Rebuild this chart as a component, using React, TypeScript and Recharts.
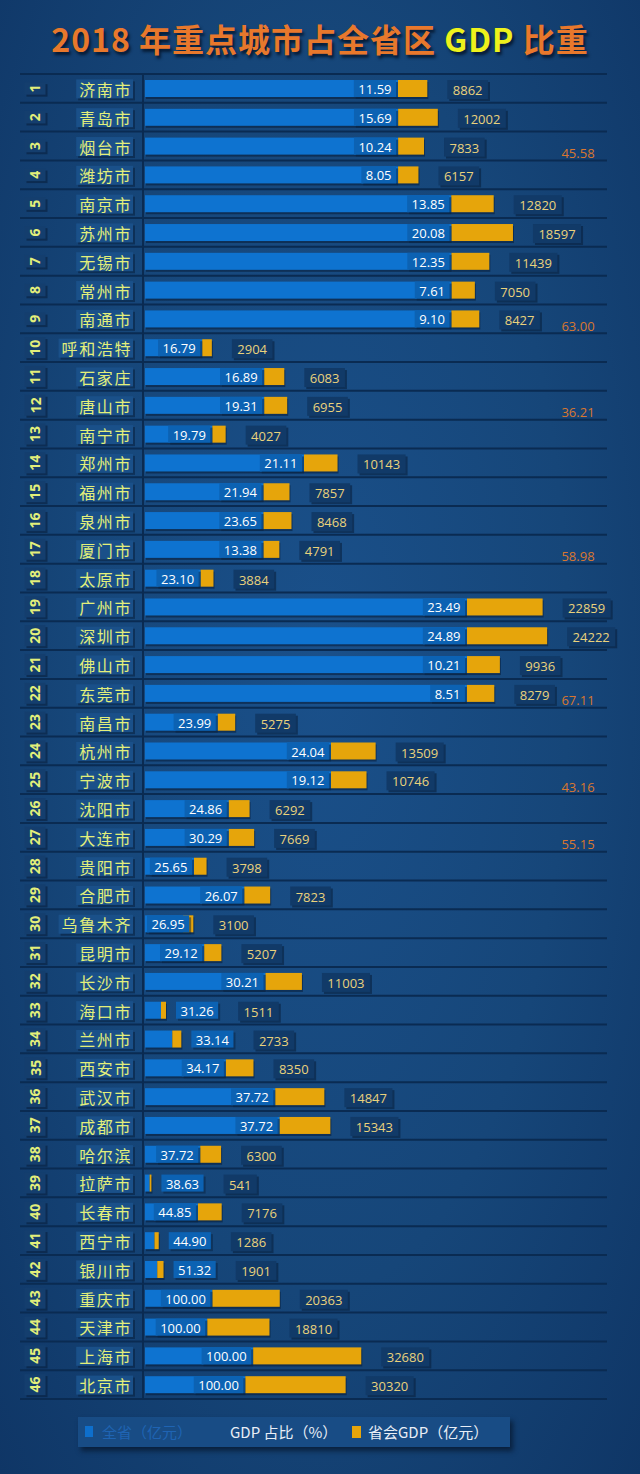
import React from 'react';
import { BarChart, Bar, XAxis, YAxis, LabelList } from 'recharts';

const categories = [
  '济南市', '青岛市', '烟台市', '潍坊市', '南京市', '苏州市', '无锡市', '常州市', '南通市', '呼和浩特',
  '石家庄', '唐山市', '南宁市', '郑州市', '福州市', '泉州市', '厦门市', '太原市', '广州市', '深圳市',
  '佛山市', '东莞市', '南昌市', '杭州市', '宁波市', '沈阳市', '大连市', '贵阳市', '合肥市', '乌鲁木齐',
  '昆明市', '长沙市', '海口市', '兰州市', '西安市', '武汉市', '成都市', '哈尔滨', '拉萨市', '长春市',
  '西宁市', '银川市', '重庆市', '天津市', '上海市', '北京市',
];

const pctValues = [
  11.59, 15.69, 10.24, 8.05, 13.85, 20.08, 12.35, 7.61, 9.1, 16.79,
  16.89, 19.31, 19.79, 21.11, 21.94, 23.65, 13.38, 23.1, 23.49, 24.89,
  10.21, 8.51, 23.99, 24.04, 19.12, 24.86, 30.29, 25.65, 26.07, 26.95,
  29.12, 30.21, 31.26, 33.14, 34.17, 37.72, 37.72, 37.72, 38.63, 44.85,
  44.9, 51.32, 100, 100, 100, 100,
];

const cityGdp = [
  8862, 12002, 7833, 6157, 12820, 18597, 11439, 7050, 8427, 2904,
  6083, 6955, 4027, 10143, 7857, 8468, 4791, 3884, 22859, 24222,
  9936, 8279, 5275, 13509, 10746, 6292, 7669, 3798, 7823, 3100,
  5207, 11003, 1511, 2733, 8350, 14847, 15343, 6300, 541, 7176,
  1286, 1901, 20363, 18810, 32680, 30320,
];

const provinceGdp = [
  76463, 76495, 76494, 76484, 92563, 92614, 92623, 92641, 92604, 17296,
  36016, 36018, 20349, 48048, 35811, 35805, 35807, 16814, 97314, 97316,
  97316, 97286, 21988, 56194, 56203, 25310, 25318, 14807, 30008, 11503,
  17881, 36422, 4834, 8247, 24437, 39361, 40676, 16700, 1400, 16000,
  2864, 3704, 20363, 18810, 32680, 30320,
];

const groupSumRows = ['烟台市', '南通市', '唐山市', '厦门市', '东莞市', '宁波市', '大连市'];
const groupSumValues = ['45.58', '63.00', '36.21', '58.98', '67.11', '43.16', '55.15'];

const legendItems = ['全省（亿元）', 'GDP 占比（%）', '省会GDP（亿元）'];

const data = categories.map((name, i) => ({
  name,
  province: provinceGdp[i],
  city: cityGdp[i],
  pct: pctValues[i],
}));

const W = 640;
const H = 1474;
const TOP = 74;
const BOTTOM = 1399;
const ROW_H = (BOTTOM - TOP) / categories.length;

const BLUE = '#0e73d0';
const ORANGE = '#e6a50b';
const BG_LINE = '#0a2b52';
const NAME_COLOR = '#e3ef7a';
const NUM_FONT = '"Open Sans", "Liberation Sans", sans-serif';
const CJK_FONT = '"Noto Sans CJK SC", "Noto Sans", sans-serif';

function numWidth(s: string, fs: number) {
  let w = 0;
  for (const c of s) w += c === '.' ? fs * 0.27 : fs * 0.57;
  return w;
}

function getVB(props: any) {
  const vb = props.viewBox || {};
  return {
    x: Number(props.x ?? vb.x),
    y: Number(props.y ?? vb.y),
    width: Number(props.width ?? vb.width),
    height: Number(props.height ?? vb.height),
  };
}

// pct label box, given blue bar geometry
function pctBox(idx: number, x: number, width: number) {
  const d = data[idx];
  const txt = d.pct.toFixed(2);
  const tw = numWidth(txt, 13);
  const bw = tw + 9;
  let left: number;
  let outside = false;
  if (width >= 32) {
    left = Math.max(x + width - 2 - bw, x + 2);
  } else {
    const ratio = width / d.province;
    const orangeEnd = x + width + d.city * ratio;
    left = orangeEnd + 10;
    outside = true;
  }
  return { txt, left, bw, outside };
}

function PctLabel(props: any) {
  const { x, y, width, height } = getVB(props);
  const idx = categories.indexOf(props.value);
  if (idx < 0 || !isFinite(x)) return null;
  const { txt, left, bw } = pctBox(idx, x, width);
  const cy = y + height / 2;
  const bh = 17;
  return (
    <g>
      <rect x={left + 2} y={cy - bh / 2 + 2} width={bw} height={bh} fill="#082140" opacity={0.5} />
      <rect x={left} y={cy - bh / 2} width={bw} height={bh} fill="#0c62b3" />
      <text x={left + bw / 2} y={cy + 0.5} textAnchor="middle" dominantBaseline="central" fill="#ffffff" fontSize={13} fontFamily={NUM_FONT}>
        {txt}
      </text>
    </g>
  );
}

function ValueLabel(props: any) {
  const { x, y, width, height } = getVB(props);
  const idx = categories.indexOf(props.value);
  if (idx < 0 || !isFinite(x)) return null;
  const d = data[idx];
  const ratio = d.city > 0 ? width / d.city : 0;
  const blueW = d.province * ratio;
  const blueX = x - blueW;
  const pb = pctBox(idx, blueX, blueW);
  let start = x + width;
  if (pb.outside) start = Math.max(start, pb.left + pb.bw);
  const left = start + 20;
  const txt = String(d.city);
  const bw = numWidth(txt, 13) + 11;
  const bh = 19;
  const cy = y + height / 2 + 1;
  return (
    <g>
      <rect x={left + 2} y={cy - bh / 2 + 2} width={bw} height={bh} fill="#071d38" opacity={0.55} />
      <rect x={left} y={cy - bh / 2} width={bw} height={bh} fill="#113a68" />
      <text x={left + bw / 2} y={cy + 0.5} textAnchor="middle" dominantBaseline="central" fill="#ead27c" fontSize={13} fontFamily={NUM_FONT}>
        {txt}
      </text>
    </g>
  );
}

function ShadowBar(props: any) {
  const { x, y, width, height, fill } = props;
  if (!isFinite(x) || !isFinite(width) || width <= 0) return null;
  return (
    <g>
      <rect x={x + 1} y={y + 2} width={width} height={height} fill="#071c36" opacity={0.55} />
      <rect x={x} y={y} width={width} height={height} fill={fill} />
    </g>
  );
}

function RowTick(props: any) {
  const { y, payload } = props;
  const name = payload?.value as string;
  const idx = categories.indexOf(name);
  const num = String(idx + 1);
  const cy = Number(y);
  const nameFs = 16;
  const ls = 1.6;
  const nameW = name.length * (nameFs + ls);
  const nameRight = 133;
  const numBoxH = num.length * 8.5 + 4;
  const numBoxW = 21;
  const gi = groupSumRows.indexOf(name);
  return (
    <g>
      <line x1={20} x2={607} y1={cy - ROW_H / 2} y2={cy - ROW_H / 2} stroke={BG_LINE} strokeWidth={2} />
      {idx === categories.length - 1 && (
        <line x1={20} x2={607} y1={cy + ROW_H / 2} y2={cy + ROW_H / 2} stroke={BG_LINE} strokeWidth={2} />
      )}
      {idx === 0 && <line x1={143} x2={143} y1={TOP} y2={BOTTOM} stroke={BG_LINE} strokeWidth={2} />}
      {/* index box */}
      <rect x={35 - numBoxW / 2 + 2} y={cy - numBoxH / 2 + 2} width={numBoxW} height={numBoxH} fill="#081f3d" opacity={0.6} />
      <rect x={35 - numBoxW / 2} y={cy - numBoxH / 2} width={numBoxW} height={numBoxH} fill="#143e6e" />
      <text
        x={35}
        y={cy}
        transform={`rotate(-90, 35, ${cy})`}
        textAnchor="middle"
        dominantBaseline="central"
        fill={NAME_COLOR}
        fontSize={14}
        fontWeight="bold"
        fontFamily={NUM_FONT}
      >
        {num}
      </text>
      {/* name box */}
      <rect x={nameRight - nameW - 4 + 2} y={cy - 9 + 2} width={nameW + 4} height={19} fill="#081f3d" opacity={0.55} />
      <rect x={nameRight - nameW - 4} y={cy - 9} width={nameW + 4} height={19} fill="#1a5089" />
      <text
        x={nameRight - 1}
        y={cy + 0.5}
        textAnchor="end"
        dominantBaseline="central"
        fill={NAME_COLOR}
        fontSize={nameFs}
        letterSpacing={ls}
        fontFamily={CJK_FONT}
      >
        {name}
      </text>
      {gi >= 0 && (
        <text x={578} y={cy + 7} textAnchor="middle" dominantBaseline="central" fill="#d9772f" fontSize={13} fontFamily={NUM_FONT}>
          {groupSumValues[gi]}
        </text>
      )}
    </g>
  );
}

export default function App() {
  return (
    <div
      style={{
        width: W,
        height: H,
        position: 'relative',
        overflow: 'hidden',
        background: 'radial-gradient(ellipse at 50% 45%, #1a508a 0%, #164679 55%, #0f3666 100%)',
        fontFamily: CJK_FONT,
      }}
    >
      <style>{'body{margin:0;}'}</style>
      <div
        style={{
          position: 'absolute',
          top: 22,
          left: 0,
          width: W,
          textAlign: 'center',
          fontSize: 32,
          lineHeight: '33px',
          fontWeight: 'bold',
          letterSpacing: 1,
          color: '#e8782c',
          textShadow: '2px 3px 3px #061a33',
          whiteSpace: 'nowrap',
        }}
      >
        2018 年重点城市占全省区 <span style={{ color: '#eef21c' }}>GDP</span> 比重
      </div>
      <div style={{ position: 'absolute', top: 0, left: 0 }}>
        <BarChart
          width={W}
          height={H}
          layout="vertical"
          data={data}
          margin={{ top: TOP, right: 45, bottom: H - BOTTOM, left: 0 }}
        >
          <XAxis type="number" domain={[0, 136000]} hide />
          <YAxis
            type="category"
            dataKey="name"
            width={145}
            interval={0}
            axisLine={false}
            tickLine={false}
            tick={(p: any) => <RowTick {...p} />}
          />
          <Bar dataKey="province" stackId="a" fill={BLUE} barSize={17} isAnimationActive={false} shape={(p: any) => <ShadowBar {...p} />}>
            <LabelList dataKey="name" content={(p: any) => <PctLabel {...p} />} />
          </Bar>
          <Bar dataKey="city" stackId="a" fill={ORANGE} barSize={17} isAnimationActive={false} shape={(p: any) => <ShadowBar {...p} />}>
            <LabelList dataKey="name" content={(p: any) => <ValueLabel {...p} />} />
          </Bar>
        </BarChart>
      </div>
      {/* legend */}
      <div
        style={{
          position: 'absolute',
          left: 78,
          top: 1417,
          width: 432,
          height: 30,
          background: '#184c85',
          boxShadow: '3px 4px 5px rgba(5,20,40,0.7)',
          fontSize: 15,
          lineHeight: '30px',
        }}
      >
        <span style={{ position: 'absolute', left: 7, top: 9, width: 8, height: 11, background: '#0e6fcc' }} />
        <span style={{ position: 'absolute', left: 24, top: 0, color: '#1f64b3' }}>{legendItems[0]}</span>
        <span style={{ position: 'absolute', left: 152, top: 0, color: '#e8eef6' }}>{legendItems[1]}</span>
        <span style={{ position: 'absolute', left: 274, top: 9, width: 9, height: 12, background: ORANGE }} />
        <span style={{ position: 'absolute', left: 290, top: 0, color: '#e8eef6' }}>{legendItems[2]}</span>
      </div>
    </div>
  );
}
